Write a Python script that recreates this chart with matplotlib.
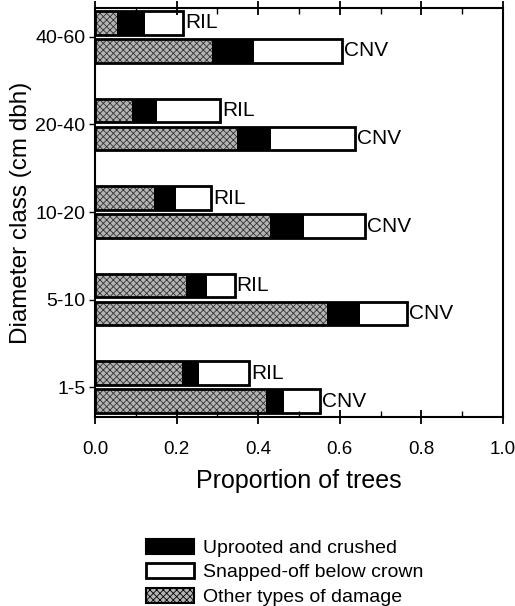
import numpy as np
import matplotlib
matplotlib.use("Agg")
import matplotlib.pyplot as plt
from matplotlib.patches import Patch

plt.rcParams["font.family"] = ["Liberation Sans", "DejaVu Sans"]
plt.rcParams["hatch.linewidth"] = 0.6

# diameter classes, bottom to top
classes = ["1-5", "5-10", "10-20", "20-40", "40-60"]

# segment lengths (proportion of trees)
ril_other  = [0.213, 0.223, 0.145, 0.090, 0.054]
ril_uproot = [0.041, 0.051, 0.054, 0.062, 0.069]
ril_snap   = [0.123, 0.068, 0.085, 0.155, 0.092]

cnv_other  = [0.420, 0.569, 0.428, 0.348, 0.287]
cnv_uproot = [0.043, 0.080, 0.084, 0.084, 0.102]
cnv_snap   = [0.088, 0.115, 0.150, 0.205, 0.217]

xticks = [0.0, 0.2, 0.4, 0.6, 0.8, 1.0]
legend_labels = ["Uprooted and crushed", "Snapped-off below crown", "Other types of damage"]

fig = plt.figure(figsize=(5.15, 6.06), dpi=100)
ax = fig.add_axes([0.1845, 0.3119, 0.7922, 0.6749])

y = np.arange(len(classes))
h = 0.27
off = 0.16

def stacked(yy, other, uproot, snap, tag):
    other = np.array(other); uproot = np.array(uproot); snap = np.array(snap)
    ax.barh(yy, other, height=h, color="#b4b4b4", edgecolor="#333333", hatch="xxxxx", lw=0)
    ax.barh(yy, uproot, left=other, height=h, color="black", edgecolor="black", lw=0)
    ax.barh(yy, snap, left=other + uproot, height=h, color="white", edgecolor="black", lw=0)
    tot = other + uproot + snap
    # outline around whole bar
    ax.barh(yy, tot, height=h, fill=False, edgecolor="black", lw=2)
    for yi, t in zip(yy, tot):
        ax.text(t + 0.005, yi, tag, va="center", ha="left", fontsize=15)

stacked(y + off, ril_other, ril_uproot, ril_snap, "RIL")
stacked(y - off, cnv_other, cnv_uproot, cnv_snap, "CNV")

ax.set_xlim(0, 1.0)
ax.set_ylim(-0.34, 4.33)
ax.set_yticks(y)
ax.set_yticklabels(classes, fontsize=14)
ax.set_xticks(xticks)
ax.set_xticklabels([f"{v:.1f}" for v in xticks], fontsize=13.5)
ax.set_xticks(np.arange(0.1, 1.0, 0.2), minor=True)
ax.tick_params(axis="x", which="major", direction="inout", length=10, width=1.3, top=True, pad=12)
ax.tick_params(axis="x", which="minor", direction="in", length=4, width=1, top=True)
ax.tick_params(axis="y", which="major", direction="out", length=4, width=1, pad=3)
for s in ax.spines.values():
    s.set_linewidth(1.5)

ax.set_xlabel("Proportion of trees", fontsize=18, labelpad=8)
ax.set_ylabel("Diameter class (cm dbh)", fontsize=17.5, labelpad=2)

handles = [
    Patch(facecolor="black", edgecolor="black", lw=1.5),
    Patch(facecolor="white", edgecolor="black", lw=2),
    Patch(facecolor="#b4b4b4", edgecolor="black", hatch="xxxxx", lw=1.5),
]
fig.legend(handles, legend_labels, loc="upper left", bbox_to_anchor=(0.268, 0.124),
           frameon=False, fontsize=14, handlelength=2.5, handleheight=0.8,
           labelspacing=0.33, handletextpad=0.45, borderaxespad=0)

fig.savefig("out.png", dpi=100)
